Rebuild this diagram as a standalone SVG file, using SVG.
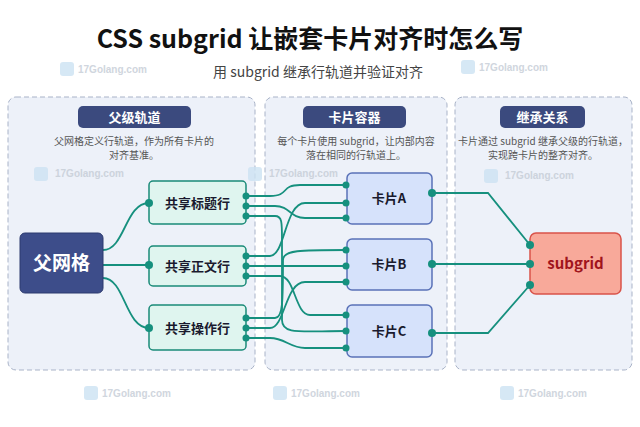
<svg xmlns="http://www.w3.org/2000/svg" width="640" height="427" viewBox="0 0 640 427">
<style>
text{font-family:"Noto Sans CJK SC","Noto Sans",sans-serif}
.panel{fill:#edf1f9;stroke:#a9b3c8;stroke-dasharray:5 3;stroke-width:1}
.ptitle{fill:#3b4a7e}
.pt{fill:#fff;font-size:13px;font-weight:bold;text-anchor:middle}
.desc{fill:#555;font-size:10px;text-anchor:middle}
.row{fill:#dff5ef;stroke:#1a8a78;stroke-width:1.5}
.card{fill:#d6e2fb;stroke:#5a72b8;stroke-width:1.5}
.lbl{font-size:13px;font-weight:bold;fill:#1a1a2e;text-anchor:middle}
.c{fill:none;stroke:#16907e;stroke-width:1.8}
.p{fill:#16907e}
.wm{fill:#c5ccd6;font-size:10px;font-family:"Liberation Sans",sans-serif;font-weight:bold}
.wi{fill:#cde3f3}
</style>
<rect width="640" height="427" fill="#ffffff"/>
<text x="310" y="48" font-size="25" font-weight="bold" text-anchor="middle" fill="#111">CSS subgrid 让嵌套卡片对齐时怎么写</text>
<text x="318" y="77" font-size="14" text-anchor="middle" fill="#444">用 subgrid 继承行轨道并验证对齐</text>
<g id="panels">
<rect class="panel" x="8" y="97" width="247" height="273" rx="8"/>
<rect class="panel" x="265" y="97" width="182" height="273" rx="8"/>
<rect class="panel" x="455" y="97" width="177" height="273" rx="8"/>
<rect class="ptitle" x="78" y="106" width="113" height="22" rx="5"/>
<text class="pt" x="134.5" y="122">父级轨道</text>
<rect class="ptitle" x="303" y="106" width="103" height="22" rx="5"/>
<text class="pt" x="354.5" y="122">卡片容器</text>
<rect class="ptitle" x="500" y="106" width="85" height="22" rx="5"/>
<text class="pt" x="542.5" y="122">继承关系</text>
<text class="desc" x="134" y="145">父网格定义行轨道，作为所有卡片的</text>
<text class="desc" x="134" y="159">对齐基准。</text>
<text class="desc" x="356" y="145">每个卡片使用 subgrid，让内部内容</text>
<text class="desc" x="356" y="159">落在相同的行轨道上。</text>
<text class="desc" x="543" y="145">卡片通过 subgrid 继承父级的行轨道，</text>
<text class="desc" x="543" y="159">实现跨卡片的整齐对齐。</text>
</g>
<g id="watermarks" opacity="0.8">
<rect class="wi" x="60" y="62" width="14" height="14" rx="3"/><text class="wm" x="78" y="73">17Golang.com</text>
<rect class="wi" x="461" y="60" width="14" height="14" rx="3"/><text class="wm" x="479" y="71">17Golang.com</text>
<rect class="wi" x="34" y="167" width="14" height="14" rx="3"/><text class="wm" x="55" y="177">17Golang.com</text>
<rect class="wi" x="248" y="167" width="14" height="14" rx="3"/><text class="wm" x="269" y="177">17Golang.com</text>
<rect class="wi" x="484" y="169" width="14" height="14" rx="3"/><text class="wm" x="505" y="179">17Golang.com</text>
<rect class="wi" x="84" y="386" width="14" height="14" rx="3"/><text class="wm" x="102" y="397">17Golang.com</text>
<rect class="wi" x="273" y="386" width="14" height="14" rx="3"/><text class="wm" x="291" y="397">17Golang.com</text>
<rect class="wi" x="500" y="386" width="14" height="14" rx="3"/><text class="wm" x="518" y="397">17Golang.com</text>
</g>
<g id="connectors">
<path class="c" d="M103,250 C125,250 125,203 149,203"/>
<path class="c" d="M103,265 H149"/>
<path class="c" d="M103,278 C125,278 125,328 149,328"/>
<path class="c" d="M246,196 H270 C290,196 280,185 300,185 H346"/>
<path class="c" d="M246,206 H275 C290,206 290,218 305,218 H346"/>
<path class="c" d="M246,216 H275 C282,216 282,222 282,240 V320 C282,335 300,331 346,331"/>
<path class="c" d="M246,256 H270 C285,256 285,203 305,203 H346"/>
<path class="c" d="M246,266 H346"/>
<path class="c" d="M246,276 H280 C295,276 295,315 310,315 H346"/>
<path class="c" d="M246,318 H275 C283,318 283,300 283,260 C283,250 300,250 346,250"/>
<path class="c" d="M246,328 H270 C285,328 285,282 305,282 H346"/>
<path class="c" d="M246,338 H270 C285,338 290,348 305,348 H346"/>
<path class="c" d="M432,193 H488 L530,245"/>
<path class="c" d="M432,264 H530"/>
<path class="c" d="M432,333 H488 L530,285"/>
</g>
<g id="parent">
<rect x="20" y="233" width="83" height="60" rx="5" fill="#3d4d8a" stroke="#2c3a6e"/>
<text x="61.5" y="270" font-size="19" font-weight="bold" fill="#fff" text-anchor="middle">父网格</text>
</g>
<g id="row1"><rect class="row" x="149" y="181" width="97" height="43" rx="4"/><text class="lbl" x="197.5" y="208">共享标题行</text></g>
<g id="row2"><rect class="row" x="149" y="246" width="97" height="40" rx="4"/><text class="lbl" x="197.5" y="271">共享正文行</text></g>
<g id="row3"><rect class="row" x="149" y="305" width="97" height="45" rx="4"/><text class="lbl" x="197.5" y="333">共享操作行</text></g>
<g id="cardA"><rect class="card" x="347" y="173" width="85" height="51" rx="5"/><text class="lbl" x="389" y="203" font-size="14">卡片A</text></g>
<g id="cardB"><rect class="card" x="347" y="239" width="85" height="51" rx="5"/><text class="lbl" x="389" y="269" font-size="14">卡片B</text></g>
<g id="cardC"><rect class="card" x="347" y="305" width="85" height="52" rx="5"/><text class="lbl" x="389" y="336" font-size="14">卡片C</text></g>
<g id="subgrid">
<rect x="530" y="233" width="91" height="61" rx="6" fill="#f8a99a" stroke="#d9534a" stroke-width="1.5"/>
<text x="575.5" y="269" font-size="15" font-weight="bold" fill="#a0141c" text-anchor="middle">subgrid</text>
</g>
<g id="ports">
<circle class="p" cx="149" cy="203" r="4"/><circle class="p" cx="149" cy="265" r="4"/><circle class="p" cx="149" cy="328" r="4"/>
<circle class="p" cx="246" cy="196" r="3.5"/><circle class="p" cx="246" cy="206" r="3.5"/><circle class="p" cx="246" cy="216" r="3.5"/>
<circle class="p" cx="246" cy="256" r="3.5"/><circle class="p" cx="246" cy="266" r="3.5"/><circle class="p" cx="246" cy="276" r="3.5"/>
<circle class="p" cx="246" cy="318" r="3.5"/><circle class="p" cx="246" cy="328" r="3.5"/><circle class="p" cx="246" cy="338" r="3.5"/>
<circle class="p" cx="346" cy="185" r="3.5"/><circle class="p" cx="346" cy="203" r="3.5"/><circle class="p" cx="346" cy="218" r="3.5"/>
<circle class="p" cx="346" cy="250" r="3.5"/><circle class="p" cx="346" cy="266" r="3.5"/><circle class="p" cx="346" cy="282" r="3.5"/>
<circle class="p" cx="346" cy="315" r="3.5"/><circle class="p" cx="346" cy="331" r="3.5"/><circle class="p" cx="346" cy="348" r="3.5"/>
<circle class="p" cx="432" cy="193" r="4"/><circle class="p" cx="432" cy="264" r="4"/><circle class="p" cx="432" cy="333" r="4"/>
<circle class="p" cx="530" cy="245" r="4"/><circle class="p" cx="530" cy="264" r="4"/><circle class="p" cx="530" cy="285" r="4"/>
</g>
</svg>
